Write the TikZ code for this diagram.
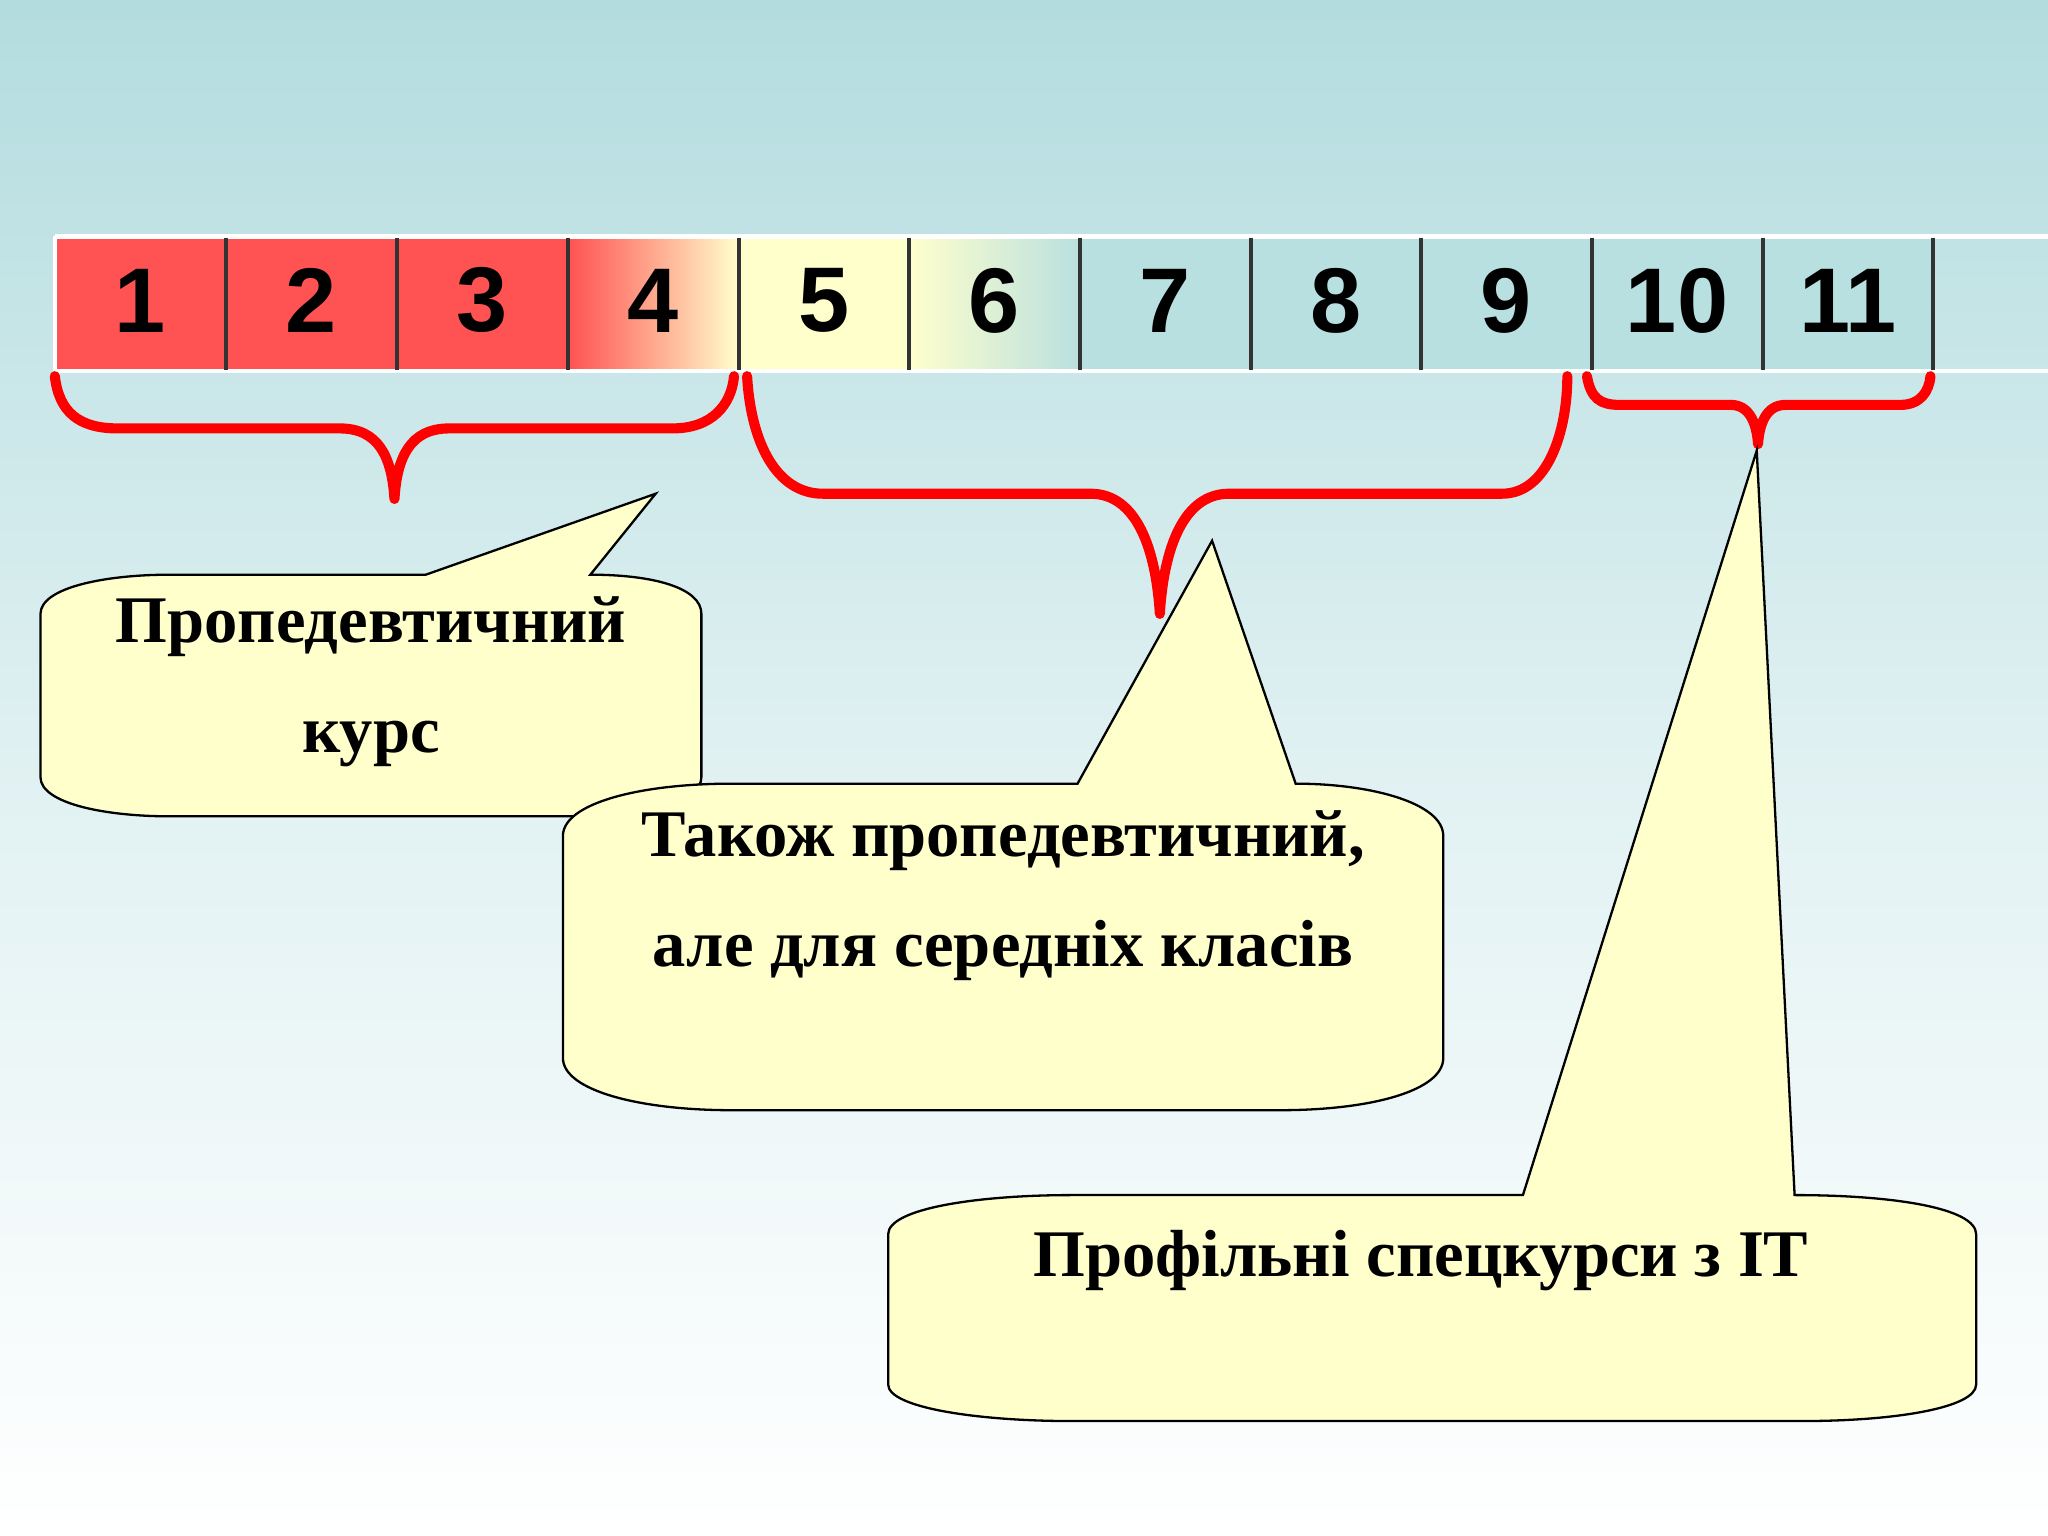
\documentclass[tikz,border=0pt]{standalone}
\usepackage{fontspec}
\setmainfont{Liberation Serif}
\newfontfamily\numfont{Liberation Sans}
\definecolor{bgtop}{HTML}{B3DCDF}
\definecolor{cellred}{HTML}{FF5252}
\definecolor{cellyel}{HTML}{FFFFCC}
\definecolor{cellteal}{HTML}{B9E0E0}
\definecolor{bracered}{HTML}{FF0000}
\tikzset{
  callout/.style={fill=cellyel,draw=black,line width=0.5pt},
  brace/.style={draw=bracered,line width=2.2pt,line cap=round,line join=round},
  numlbl/.style={font=\numfont\bfseries\fontsize{20}{24}\selectfont},
  calltext/.style={font=\bfseries\fontsize{14.5}{18}\selectfont,align=center},
}
\begin{document}
\begin{tikzpicture}[x=0.01cm,y=-0.01cm]
\useasboundingbox (0,0) rectangle (1568,1176);
\shade[top color=bgtop,bottom color=white,middle color=bgtop!40!white] (0,0) rectangle (1568,1176);
% cells
\fill[cellred] (42,181) rectangle (435,284);
\shade[left color=cellred,right color=cellyel] (435,181) rectangle (566,284);
\fill[cellyel] (566,181) rectangle (696,284);
\shade[left color=cellyel,right color=cellteal] (696,181) rectangle (827,284);
\fill[cellteal] (827,181) rectangle (1480,284);
\draw[white,line width=1pt] (42,181) -- (1568,181) (42,284) -- (1568,284) (42,181) -- (42,284);
\foreach \x in {173,304,435,566,696,827,958,1088,1219,1350,1480}
  \draw[black!80,line width=0.8pt] (\x,182) -- (\x,283);
\foreach \n/\x in {1/107,2/238,3/369,4/500,5/631,6/761,7/892,8/1023,9/1153,10/1284,11/1415}
  \node[numlbl] (c\n) at (\x,230) {\n};
% braces
\draw[brace] (42,288) .. controls (45,315) and (60,328) .. (90,328) -- (260,328)
  .. controls (290,328) and (300,350) .. (302,382)
  .. controls (304,350) and (314,328) .. (344,328) -- (515,328)
  .. controls (545,328) and (560,310) .. (562,288);
\draw[brace] (572,288) .. controls (575,340) and (595,378) .. (630,378) -- (835,378)
  .. controls (870,378) and (885,420) .. (888,470)
  .. controls (891,420) and (906,378) .. (941,378) -- (1150,378)
  .. controls (1185,378) and (1200,330) .. (1200,288);
\draw[brace] (1215,288) .. controls (1218,305) and (1225,310) .. (1240,310) -- (1325,310)
  .. controls (1340,310) and (1345,325) .. (1346,340)
  .. controls (1347,325) and (1352,310) .. (1367,310) -- (1455,310)
  .. controls (1470,310) and (1477,300) .. (1478,288);
% callouts
\draw[callout] (31,470) .. controls (31,450) and (80,440) .. (130,440) -- (326,440) -- (502,378) -- (452,440)
  .. controls (500,440) and (537,450) .. (537,470) -- (537,595)
  .. controls (537,615) and (490,625) .. (440,625) -- (130,625)
  .. controls (80,625) and (31,615) .. (31,595) -- cycle;
\node[calltext] (t1) at (284,522) {Пропедевтичний\\[6pt]курс};
\draw[callout] (431,640) .. controls (431,615) and (490,600) .. (560,600) -- (825,600) -- (928,414) -- (992,600)
  .. controls (1050,600) and (1105,615) .. (1105,640) -- (1105,810)
  .. controls (1105,835) and (1050,850) .. (980,850) -- (560,850)
  .. controls (490,850) and (431,835) .. (431,810) -- cycle;
\node[calltext] (t2) at (768,686) {Також пропедевтичний,\\[6pt]але для середніх класів};
\draw[callout] (680,945) .. controls (680,925) and (750,915) .. (820,915) -- (1166,915) -- (1345,345) -- (1374,915)
  .. controls (1450,915) and (1513,925) .. (1513,945) -- (1513,1060)
  .. controls (1513,1078) and (1450,1088) .. (1380,1088) -- (820,1088)
  .. controls (750,1088) and (680,1078) .. (680,1060) -- cycle;
\node[calltext] (t3) at (1088,965) {Профільні спецкурси з IT};
\end{tikzpicture}
\end{document}
